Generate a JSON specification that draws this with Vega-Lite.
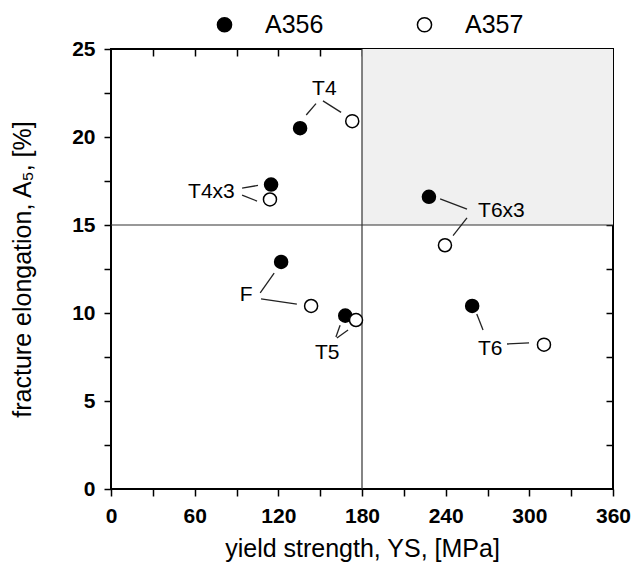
{
  "$schema": "https://vega.github.io/schema/vega-lite/v6.json",
  "width": 502,
  "height": 440,
  "autosize": {"type": "none"},
  "padding": {"left": 111, "top": 49, "right": 22, "bottom": 79},
  "config": {
    "font": "Liberation Sans",
    "view": {"stroke": "black", "strokeWidth": 2},
    "axis": {"domain": false, "grid": false, "tickColor": "black", "tickWidth": 1.5, "labelColor": "black", "titleColor": "black", "labelFont": "Liberation Sans", "titleFont": "Liberation Sans"}
  },
  "datasets": {
    "region": [{"x": 180, "x2": 360, "y": 15, "y2": 25}],
    "lines": [
      {"x": 180, "x2": 180, "y": 0, "y2": 25},
      {"x": 0, "x2": 360, "y": 15, "y2": 15}
    ],
    "leaders": [
      {"x": 140, "y": 21.25, "x2": 147, "y2": 21.9},
      {"x": 152, "y": 22.05, "x2": 165, "y2": 21.4},
      {"x": 94, "y": 17.1, "x2": 105.4, "y2": 17.25},
      {"x": 94, "y": 16.7, "x2": 104.7, "y2": 16.36},
      {"x": 236, "y": 16.48, "x2": 255.3, "y2": 15.9},
      {"x": 255.3, "y": 15.4, "x2": 245.3, "y2": 14.4},
      {"x": 107, "y": 11.14, "x2": 117, "y2": 12.27},
      {"x": 107.6, "y": 10.8, "x2": 133.3, "y2": 10.5},
      {"x": 161.3, "y": 8.64, "x2": 164.3, "y2": 9.3},
      {"x": 162, "y": 8.58, "x2": 170, "y2": 9.03},
      {"x": 262.3, "y": 9.94, "x2": 266.8, "y2": 9.03},
      {"x": 284, "y": 8.24, "x2": 299.8, "y2": 8.3}
    ],
    "labels": [
      {"label": "T4", "x": 153, "y": 22.75},
      {"label": "T4x3", "x": 72, "y": 16.9},
      {"label": "T6x3", "x": 280, "y": 15.8},
      {"label": "F", "x": 97, "y": 11.0},
      {"label": "T5", "x": 155, "y": 7.7},
      {"label": "T6", "x": 272, "y": 7.95}
    ],
    "points": [
      {"alloy": "A356", "temper": "T4", "ys": 135.6, "a5": 20.5},
      {"alloy": "A356", "temper": "T4x3", "ys": 114.8, "a5": 17.3},
      {"alloy": "A356", "temper": "T6x3", "ys": 228, "a5": 16.6},
      {"alloy": "A356", "temper": "F", "ys": 122, "a5": 12.9},
      {"alloy": "A356", "temper": "T5", "ys": 168, "a5": 9.85},
      {"alloy": "A356", "temper": "T6", "ys": 259, "a5": 10.4},
      {"alloy": "A357", "temper": "T4", "ys": 173, "a5": 20.9},
      {"alloy": "A357", "temper": "T4x3", "ys": 114, "a5": 16.45},
      {"alloy": "A357", "temper": "T6x3", "ys": 239.5, "a5": 13.85},
      {"alloy": "A357", "temper": "F", "ys": 143.5, "a5": 10.4},
      {"alloy": "A357", "temper": "T5", "ys": 175.7, "a5": 9.6},
      {"alloy": "A357", "temper": "T6", "ys": 310.5, "a5": 8.2}
    ]
  },
  "layer": [
    {
      "data": {"name": "region"},
      "mark": {"type": "rect", "fill": "#f0f0f0"},
      "encoding": {
        "x": {"field": "x", "type": "quantitative", "scale": {"domain": [0, 360], "nice": false},
          "axis": {"orient": "bottom", "values": [0, 30, 60, 90, 120, 150, 180, 210, 240, 270, 300, 330, 360],
            "labelExpr": "datum.value % 60 === 0 ? datum.label : ''",
            "tickSize": 7,
            "labelFontSize": 21, "labelFontWeight": "bold", "labelPadding": 9, "labelFlush": false,
            "title": "yield strength, YS, [MPa]", "titleFontSize": 25, "titleFontWeight": "normal", "titlePadding": 10}},
        "x2": {"field": "x2"},
        "y": {"field": "y", "type": "quantitative", "scale": {"domain": [0, 25], "nice": false},
          "axis": {"orient": "left", "values": [0, 2.5, 5, 7.5, 10, 12.5, 15, 17.5, 20, 22.5, 25],
            "labelExpr": "datum.value % 5 === 0 ? datum.label : ''",
            "tickSize": 7,
            "labelFontSize": 21, "labelFontWeight": "bold", "labelPadding": 9, "labelFlush": false,
            "title": "fracture elongation, A₅, [%]", "titleFontSize": 25, "titleFontWeight": "normal", "titlePadding": 36}},
        "y2": {"field": "y2"}
      }
    },
    {
      "data": {"name": "lines"},
      "mark": {"type": "rule", "color": "#333333", "strokeWidth": 1.2},
      "encoding": {
        "x": {"field": "x", "type": "quantitative",
          "axis": {"orient": "top", "values": [30, 60, 90, 120, 150, 180, 210, 240, 270, 300, 330],
            "labels": false, "title": null, "tickSize": 7, "offset": -7}},
        "x2": {"field": "x2"},
        "y": {"field": "y", "type": "quantitative",
          "axis": {"orient": "right", "values": [2.5, 5, 7.5, 10, 12.5, 15, 17.5, 20, 22.5],
            "labels": false, "title": null, "tickSize": 7, "offset": -7}},
        "y2": {"field": "y2"}
      }
    },
    {
      "data": {"name": "leaders"},
      "mark": {"type": "rule", "color": "#222222", "strokeWidth": 1.3},
      "encoding": {
        "x": {"field": "x", "type": "quantitative", "axis": null},
        "x2": {"field": "x2"},
        "y": {"field": "y", "type": "quantitative", "axis": null},
        "y2": {"field": "y2"}
      }
    },
    {
      "data": {"name": "labels"},
      "mark": {"type": "text", "fontSize": 21, "color": "black", "align": "center", "baseline": "middle"},
      "encoding": {
        "x": {"field": "x", "type": "quantitative", "axis": null},
        "y": {"field": "y", "type": "quantitative", "axis": null},
        "text": {"field": "label"}
      }
    },
    {
      "data": {"name": "points"},
      "mark": {"type": "point", "shape": "circle", "filled": true, "stroke": "black", "strokeWidth": 1.5, "size": 170, "opacity": 1},
      "encoding": {
        "x": {"field": "ys", "type": "quantitative", "axis": null},
        "y": {"field": "a5", "type": "quantitative", "axis": null},
        "fill": {"field": "alloy", "type": "nominal",
          "scale": {"domain": ["A356", "A357"], "range": ["black", "white"]},
          "legend": {"orient": "none", "legendX": 101, "legendY": -37, "direction": "horizontal", "title": null,
            "labelFontSize": 25, "labelColor": "black", "symbolSize": 200, "symbolType": "circle", "symbolStrokeColor": "black",
            "symbolStrokeWidth": 1.5, "symbolOpacity": 1, "labelOffset": 28, "columnPadding": 88}}
      }
    }
  ],
  "resolve": {"axis": {"x": "independent", "y": "independent"}}
}
